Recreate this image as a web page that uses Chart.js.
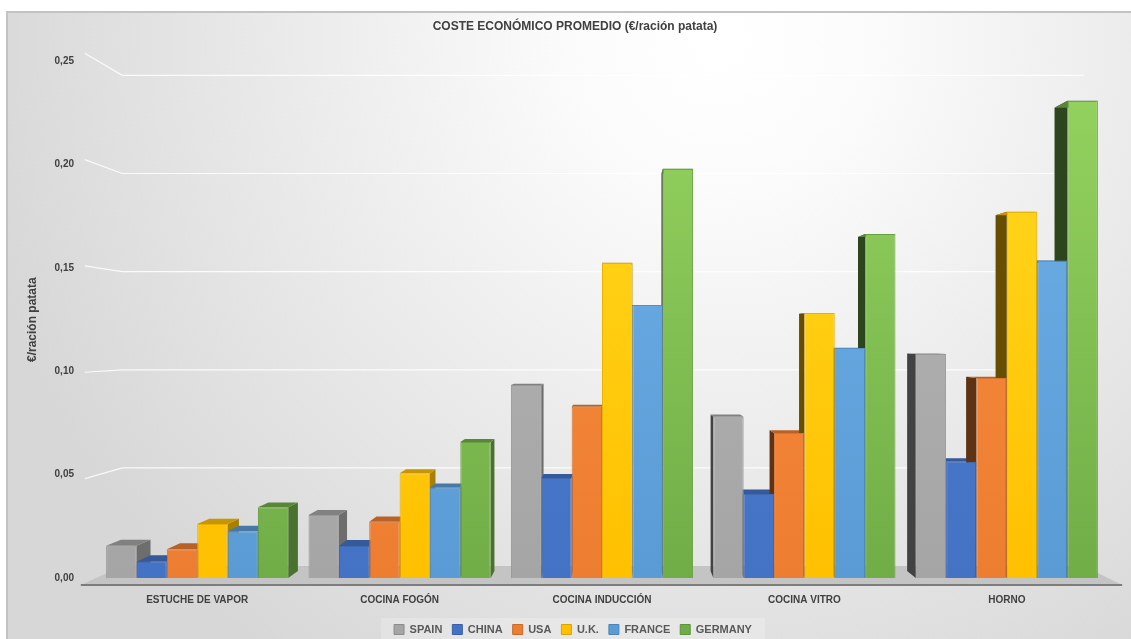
<!DOCTYPE html>
<html>
<head>
<meta charset="utf-8">
<script src="https://cdn.jsdelivr.net/npm/chart.js@4/dist/chart.umd.min.js"></script>
<style>
  html, body { margin: 0; padding: 0; background: #fff; }
  #wrap { width: 1131px; height: 639px; }
</style>
</head>
<body>
<div id="wrap"><canvas id="coste-chart" width="1131" height="639"></canvas></div>
<script>
// data
const categories = ['ESTUCHE DE VAPOR', 'COCINA FOGÓN', 'COCINA INDUCCIÓN', 'COCINA VITRO', 'HORNO'];
const spain   = [0.0156, 0.0305, 0.0934, 0.0780, 0.1084];
const china   = [0.0079, 0.0155, 0.0484, 0.0407, 0.0563];
const usa     = [0.0139, 0.0272, 0.0829, 0.0702, 0.0968];
const uk      = [0.0261, 0.0507, 0.1525, 0.1283, 0.1773];
const france  = [0.0226, 0.0437, 0.1321, 0.1113, 0.1536];
const germany = [0.0342, 0.0658, 0.1980, 0.1665, 0.2309];
const yTicks  = [0, 0.05, 0.10, 0.15, 0.20, 0.25];

// colours: [top of gradient, base colour]
const colors = {
    SPAIN:   ['#b6b6b6', '#a5a5a5'],
    CHINA:   ['#4d7fd6', '#4472c4'],
    USA:     ['#f88d40', '#ed7d31'],
    'U.K.':  ['#ffda22', '#ffc000'],
    FRANCE:  ['#70b1ea', '#5b9bd5'],
    GERMANY: ['#96d460', '#70ad47'],
};

// fake perspective: vanishing point and depth factors
const VP = { x: 620, y: 340 };
const K_BAR = 0.029;   // bar depth
const K_BACK = 0.05;   // back wall
const K_FRONT = -0.029; // front edge of floor

function proj(x, y, k) {
    return { x: x + (VP.x - x) * k, y: y + (VP.y - y) * k };
}

function shade(hex, f) {
    const n = parseInt(hex.slice(1), 16);
    const r = Math.round(((n >> 16) & 255) * f);
    const g = Math.round(((n >> 8) & 255) * f);
    const b = Math.round((n & 255) * f);
    return 'rgb(' + r + ',' + g + ',' + b + ')';
}

function fillPoly(ctx, pts, color) {
    ctx.beginPath();
    ctx.moveTo(pts[0].x, pts[0].y);
    for (let i = 1; i < pts.length; i++) ctx.lineTo(pts[i].x, pts[i].y);
    ctx.closePath();
    ctx.fillStyle = color;
    ctx.fill();
}

function gradFill(name) {
    return function (context) {
        const chart = context.chart;
        const area = chart.chartArea;
        if (!area) return colors[name][1];
        const g = chart.ctx.createLinearGradient(0, area.top, 0, area.bottom);
        g.addColorStop(0, colors[name][0]);
        g.addColorStop(1, colors[name][1]);
        return g;
    };
}

function makeSet(name, values) {
    return {
        label: name,
        data: values,
        backgroundColor: gradFill(name),
        borderColor: shade(colors[name][1], 0.92),
        borderWidth: 1,
        categoryPercentage: 0.9,
        barPercentage: 1.0,
    };
}

const backdrop = {
    id: 'backdrop',
    afterLayout(chart) {
        // title and legend sit centred on the whole frame, not the padded box
        if (chart.titleBlock) { chart.titleBlock.left += 21; chart.titleBlock.right += 21; }
        if (chart.legend) { chart.legend.left += 19; chart.legend.right += 19; }
    },
    beforeDraw(chart) {
        const ctx = chart.ctx;
        const w = chart.width, h = chart.height;
        ctx.save();
        ctx.fillStyle = '#ffffff';
        ctx.fillRect(0, 0, w, h);
        const g = ctx.createRadialGradient(720, 40, 0, 720, 40, 760);
        g.addColorStop(0, '#ffffff');
        g.addColorStop(0.2, '#fbfbfb');
        g.addColorStop(1, '#d7d7d7');
        ctx.fillStyle = g;
        ctx.fillRect(8, 13, w - 8, h - 13);
        ctx.strokeStyle = '#c3c3c3';
        ctx.lineWidth = 2;
        ctx.beginPath();
        ctx.moveTo(7, h);
        ctx.lineTo(7, 12);
        ctx.lineTo(w, 12);
        ctx.stroke();
        // legend backing
        const lg = chart.legend;
        if (lg) {
            ctx.fillStyle = 'rgba(255,255,255,0.22)';
            ctx.fillRect(lg.left + (lg.width - 384) / 2, 618, 384, h - 618);
        }
        ctx.restore();
    },
    beforeDatasetsDraw(chart) {
        const ctx = chart.ctx;
        const area = chart.chartArea;
        const ys = chart.scales.y;
        ctx.save();
        // back wall grid lines
        ctx.strokeStyle = 'rgba(255,255,255,0.85)';
        ctx.lineWidth = 1.2;
        yTicks.slice(1).forEach(v => {
            const py = ys.getPixelForValue(v);
            const f = proj(area.left, py, K_FRONT);
            const b = proj(area.left, py, K_BACK);
            const br = proj(area.right, py, K_BACK);
            ctx.beginPath();
            ctx.moveTo(f.x + 4, f.y);
            ctx.lineTo(b.x, b.y);
            ctx.lineTo(br.x, br.y);
            ctx.stroke();
        });
        // floor
        const base = ys.getPixelForValue(0);
        const fl = proj(area.left, base, K_FRONT), fr = proj(area.right, base, K_FRONT);
        const bl = proj(area.left, base, K_BACK), br = proj(area.right, base, K_BACK);
        fillPoly(ctx, [fl, bl, br, fr], '#c4c4c4');
        ctx.strokeStyle = '#7d7d7d';
        ctx.lineWidth = 2;
        ctx.beginPath();
        ctx.moveTo(fl.x, fl.y);
        ctx.lineTo(fr.x, fr.y);
        ctx.stroke();
        // bar side and top faces
        chart.data.datasets.forEach((ds, i) => {
            const meta = chart.getDatasetMeta(i);
            const col = colors[ds.label][1];
            meta.data.forEach(bar => {
                const x0 = bar.x - bar.width / 2, x1 = bar.x + bar.width / 2;
                const t = bar.y, bse = bar.base;
                const a = proj(x0, t, K_BAR), b = proj(x1, t, K_BAR);
                const c = proj(x1, bse, K_BAR), d = proj(x0, bse, K_BAR);
                if (a.x > x0) {
                    fillPoly(ctx, [{ x: x1, y: t }, b, c, { x: x1, y: bse }], shade(col, 0.66));
                } else {
                    fillPoly(ctx, [{ x: x0, y: t }, a, d, { x: x0, y: bse }], shade(col, 0.4));
                }
                fillPoly(ctx, [{ x: x0, y: t }, { x: x1, y: t }, b, a], shade(col, 0.78));
            });
        });
        ctx.restore();
    }
};

const coste_config = {
    type: 'bar',
    data: {
        labels: categories,
        datasets: [
            makeSet('SPAIN', spain),
            makeSet('CHINA', china),
            makeSet('USA', usa),
            makeSet('U.K.', uk),
            makeSet('FRANCE', france),
            makeSet('GERMANY', germany),
        ]
    },
    options: {
        responsive: false,
        animation: false,
        layout: { padding: { left: 0, right: 23, top: 0, bottom: -6 } },
        plugins: {
            title: {
                display: true,
                text: 'COSTE ECONÓMICO PROMEDIO (€/ración patata)',
                color: '#404040',
                font: { family: 'Liberation Sans', size: 12, weight: 'bold' },
                padding: { top: 19, bottom: 28 }
            },
            legend: {
                position: 'bottom',
                labels: {
                    boxWidth: 10,
                    boxHeight: 10,
                    padding: 10,
                    color: '#595959',
                    font: { family: 'Liberation Sans', size: 11, weight: 'bold' },
                    generateLabels(chart) {
                        return chart.data.datasets.map((ds, i) => ({
                            text: ds.label,
                            fillStyle: colors[ds.label][1],
                            strokeStyle: shade(colors[ds.label][1], 0.85),
                            lineWidth: 1,
                            fontColor: '#595959',
                            datasetIndex: i,
                        }));
                    }
                }
            },
            tooltip: { enabled: false }
        },
        scales: {
            x: {
                grid: { display: false, drawTicks: false },
                border: { display: false },
                afterFit(axis) { axis.height = 36; },
                ticks: {
                    padding: 16,
                    color: '#404040',
                    font: { family: 'Liberation Sans', size: 10, weight: 'bold' }
                }
            },
            y: {
                min: 0,
                max: 0.25,
                grid: { display: false, drawTicks: false },
                border: { display: false },
                afterFit(axis) { axis.width = 96; },
                afterBuildTicks(axis) {
                    axis.ticks = yTicks.map(v => ({ value: v }));
                },
                ticks: {
                    padding: 22,
                    color: '#404040',
                    font: { family: 'Liberation Sans', size: 10, weight: 'bold' },
                    callback: v => v.toFixed(2).replace('.', ',')
                },
                title: {
                    display: true,
                    text: '€/ración patata',
                    color: '#404040',
                    font: { family: 'Liberation Sans', size: 12, weight: 'bold' },
                    padding: { top: 25, bottom: 4 }
                }
            }
        }
    },
    plugins: [backdrop]
};

const coste_ctx = document.getElementById('coste-chart').getContext('2d');
const coste_chart = new Chart(coste_ctx, coste_config);
</script>
</body>
</html>
